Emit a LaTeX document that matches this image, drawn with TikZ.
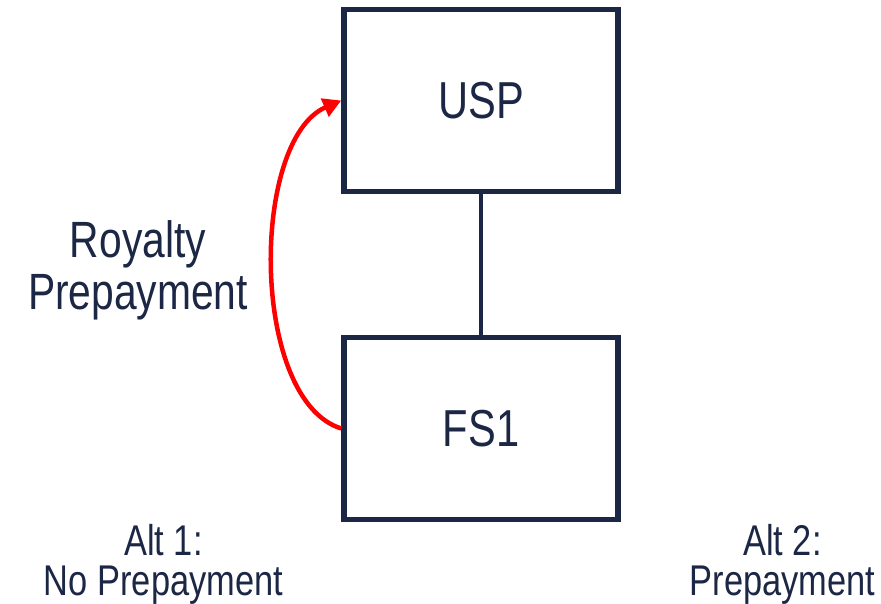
\documentclass[tikz,border=0pt]{standalone}
\usepackage{fontspec}
\setmainfont[FakeStretch=0.8]{Liberation Sans}
\usetikzlibrary{arrows.meta}
\definecolor{navy}{HTML}{1B2744}
\definecolor{arrowred}{HTML}{FF0000}
\tikzset{
  entity/.style={draw=navy, line width=5.5pt, minimum width=274pt, minimum height=182pt,
    inner sep=0pt, text=navy, font=\fontsize{52}{53}\selectfont},
  label/.style={text=navy, align=center, inner sep=0pt},
  link/.style={draw=navy, line width=4.5pt},
  flow/.style={draw=arrowred, line width=4.5pt, -{Triangle[length=18pt,width=19pt]}}
}
\begin{document}
\begin{tikzpicture}[x=1pt,y=-1pt]
  \useasboundingbox (0,0) rectangle (881,603);
  % entities
  \node[entity] (usp) at (481,100.5) {USP};
  \node[entity] (fs1) at (481,428.5) {FS1};
  \draw[link] (usp.south) -- (fs1.north);
  % royalty prepayment flow
  \draw[flow] (fs1.west) .. controls (250,400) and (250,140) .. (usp.west);
  \node[label, anchor=base, font=\fontsize{51}{52}\selectfont] (roy) at (138,309) {Royalty\\Prepayment};
  % alternatives
  \node[label, anchor=base, font=\fontsize{43}{40}\selectfont] (alt1) at (163.5,595) {Alt 1:\\No Prepayment};
  \node[label, anchor=base, font=\fontsize{43}{40}\selectfont] (alt2) at (782.5,595) {Alt 2:\\Prepayment};
\end{tikzpicture}
\end{document}
